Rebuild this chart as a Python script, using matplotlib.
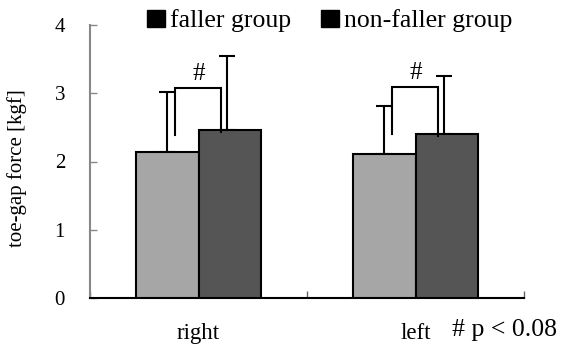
import matplotlib
matplotlib.use("Agg")
import matplotlib.pyplot as plt
import numpy as np
from matplotlib.patches import Patch

categories = ["right", "left"]
faller = [2.14, 2.11]
nonfaller = [2.46, 2.40]
faller_sd = [0.88, 0.70]
nonfaller_sd = [1.09, 0.86]
bracket_y = [3.07, 3.09]
bracket_low = [2.39, 2.40]
yticks = [0, 1, 2, 3, 4]
note = "# p < 0.08"

plt.rcParams['font.family'] = ['Liberation Serif', 'DejaVu Serif']

fig = plt.figure(figsize=(5.7, 3.47), dpi=100)
ax = fig.add_axes([90/570, 1-298/347, 434/570, 273/347])

x = np.arange(len(categories))
w = 0.29
off = 0.145
ax.bar(x - off, faller, w, color='#a6a6a6', edgecolor='black', linewidth=1.5, zorder=3)
ax.bar(x + off, nonfaller, w, color='#555555', edgecolor='black', linewidth=1.5, zorder=3)
ax.errorbar(x - off + 0.0, faller, yerr=[np.zeros(2), faller_sd], fmt='none',
            ecolor='black', elinewidth=1.5, capsize=5.5, capthick=1.5, zorder=2)
ax.errorbar(x + off - 0.012, nonfaller, yerr=[np.zeros(2), nonfaller_sd], fmt='none',
            ecolor='black', elinewidth=1.5, capsize=5.5, capthick=1.5, zorder=2)

for i in range(len(categories)):
    xl = x[i] - 0.11
    xr = x[i] + 0.105
    ax.plot([xl, xl, xr, xr], [bracket_low[i], bracket_y[i], bracket_y[i], nonfaller[i] - 0.03],
            color='black', lw=1.5, zorder=4, solid_joinstyle='miter')
    ax.text(x[i], bracket_y[i] + 0.05, "#", ha='center', va='bottom', fontsize=18)

ax.set_xlim(-0.5, 1.5)
ax.set_ylim(0, 4)
ax.set_yticks(yticks)
ax.set_yticklabels([str(t) for t in yticks], fontsize=15)
ax.set_xticks([-0.5, 0.5, 1.5])
ax.set_xticklabels([])
ax.set_xticks(x, minor=True)
ax.set_xticklabels(categories, minor=True, fontsize=16.5)
ax.tick_params(axis='x', which='minor', length=0, pad=18)
ax.tick_params(axis='x', which='major', direction='in', length=5, width=1, color='#666666')
ax.tick_params(axis='y', direction='in', length=5, width=1, color='#888888', pad=18)
ax.spines['top'].set_visible(False)
ax.spines['right'].set_visible(False)
ax.spines['left'].set_color('#888888')
ax.spines['left'].set_linewidth(1.5)
ax.spines['bottom'].set_linewidth(1.5)
ax.set_ylabel("toe-gap force [kgf]", fontsize=15)
ax.yaxis.set_label_coords(-(90-27)/434, (298-168)/273)

handles = [Patch(facecolor='black', edgecolor='black'), Patch(facecolor='black', edgecolor='black')]
fig.legend(handles, ["faller group", "non-faller group"], loc='center', bbox_to_anchor=(330/570, 1-21/347),
           ncol=2, frameon=False, fontsize=18.5, handlelength=0.7, handleheight=0.7,
           handletextpad=0.2, columnspacing=1.15, borderpad=0)

fig.text(452/570, 1-330/347, note, ha='left', va='center', fontsize=18.5)

fig.savefig("out.png", dpi=100)
